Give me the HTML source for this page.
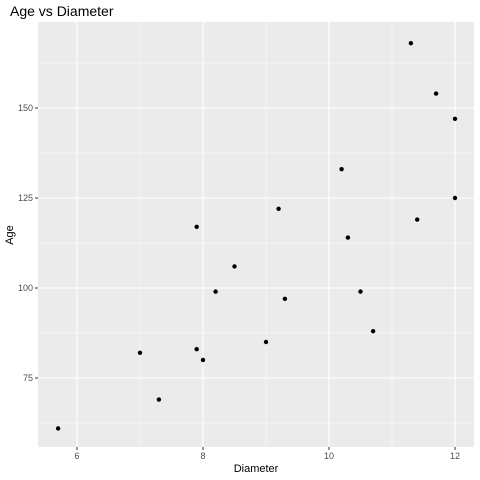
<!DOCTYPE html>
<html><head><meta charset="utf-8"><style>
body{margin:0;background:#fff;}
svg{display:block;font-family:"Liberation Sans",sans-serif;}
</style></head><body>
<svg id="chart" width="480" height="480">
<text x="10" y="16" font-size="14" fill="#000">Age vs Diameter</text>
<rect x="38" y="22" width="436" height="425" fill="#ebebeb"/>
<g id="grid"></g><g id="ticks"></g><g id="points"></g>
<text x="256" y="472" font-size="11" text-anchor="middle" fill="#000">Diameter</text>
<text transform="translate(13,235) rotate(-90)" font-size="11" text-anchor="middle" fill="#000">Age</text>
</svg>
<script>
const diameter=[5.7,7.0,7.3,7.9,7.9,8.0,8.2,8.5,9.0,9.2,9.3,10.2,10.3,10.5,10.7,11.3,11.4,11.7,12.0,12.0];
const age=[61,82,69,117,83,80,99,106,85,122,97,133,114,99,88,168,119,154,147,125];
const xTicks=[6,8,10,12];
const xMinor=[7,9,11];
const yTicks=[75,100,125,150];
const yMinor=[62.5,87.5,112.5,137.5,162.5];
const L=38,R=474,T=22,B=447;
const sx=v=>77+(v-6)*63;
const sy=v=>378-(v-75)*3.6;
const NS="http://www.w3.org/2000/svg";
function mk(tag,attrs,parent){const e=document.createElementNS(NS,tag);for(const k in attrs)e.setAttribute(k,attrs[k]);document.getElementById(parent).appendChild(e);return e;}
xMinor.forEach(v=>{const e=mk('line',{x1:sx(v),x2:sx(v),y1:T,y2:B,stroke:'#fff','stroke-width':0.5},'grid');

});
yMinor.forEach(v=>{const e=mk('line',{x1:L,x2:R,y1:sy(v),y2:sy(v),stroke:'#fff','stroke-width':0.5},'grid');

});
xTicks.forEach(v=>{const e=mk('line',{x1:sx(v),x2:sx(v),y1:T,y2:B,stroke:'#fff','stroke-width':1.1},'grid');


const t=mk('line',{x1:sx(v),x2:sx(v),y1:B,y2:B+3,stroke:'#333','stroke-width':1},'ticks');


const l=mk('text',{x:sx(v),y:B+12,'font-size':9,'text-anchor':'middle',fill:'#4d4d4d'},'ticks');l.textContent=v;

});
yTicks.forEach(v=>{const e=mk('line',{x1:L,x2:R,y1:sy(v),y2:sy(v),stroke:'#fff','stroke-width':1.1},'grid');


const t=mk('line',{x1:L-3,x2:L,y1:sy(v),y2:sy(v),stroke:'#333','stroke-width':1},'ticks');


const l=mk('text',{x:L-5,y:sy(v)+3,'font-size':9,'text-anchor':'end',fill:'#4d4d4d'},'ticks');l.textContent=v;

});
diameter.forEach((d,i)=>{const c=mk('circle',{cx:sx(d),cy:sy(age[i]),r:2.2,fill:'#000'},'points');

});
</script>
</body></html>
